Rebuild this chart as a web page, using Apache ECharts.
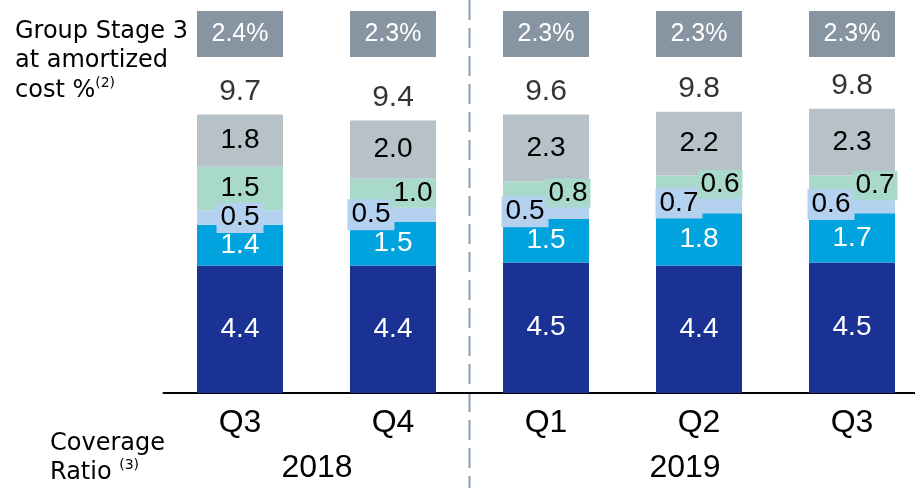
<!DOCTYPE html>
<html><head><meta charset="utf-8">
<script src="https://cdn.jsdelivr.net/npm/echarts@6/dist/echarts.min.js"></script>
<style>html,body{margin:0;padding:0;background:#fff}#c{width:915px;height:488px}</style>
</head><body><div id="c"></div>
<script>
// ---- data ----
const quarters = ['Q3', 'Q4', 'Q1', 'Q2', 'Q3'];
const years = ['2018', '2019'];
const stage3Pct = ['2.4%', '2.3%', '2.3%', '2.3%', '2.3%'];
const totals = ['9.7', '9.4', '9.6', '9.8', '9.8'];
const seg1 = [4.4, 4.4, 4.5, 4.4, 4.5];
const seg2 = [1.4, 1.5, 1.5, 1.8, 1.7];
const seg3 = [0.5, 0.5, 0.5, 0.7, 0.6];
const seg4 = [1.5, 1.0, 0.8, 0.6, 0.7];
const seg5 = [1.8, 2.0, 2.3, 2.2, 2.3];

// ---- layout / style constants ----
const off3 = [0, -22, -21, -20, -21];
const off4 = [0, 20, 22, 21, 23];
const FONT = '"Liberation Sans", Arial, sans-serif';
const DV = '"DejaVu Sans", sans-serif';
const C = { navy: '#1B3295', cyan: '#00A3DE', lblue: '#B4D1EF', mint: '#A8D9CB', grey: '#B7C1C8', box: '#8794A2' };
const BW = 86;

const sums = quarters.map((_, i) => seg1[i] + seg2[i] + seg3[i] + seg4[i] + seg5[i]);

function segLabel(color) {
  return { show: true, position: 'inside', color: color, fontSize: 28, fontFamily: FONT,
           formatter: p => p.value.toFixed(1) };
}

const chart = echarts.init(document.getElementById('c'), null, { renderer: 'canvas' });
chart.setOption({
  animation: false,
  backgroundColor: '#fff',
  grid: [
    { left: 163.5, width: 765, top: 45, height: 348, outerBoundsMode: 'none', containLabel: false },
    { left: 163.5, width: 765, top: 11, height: 46, outerBoundsMode: 'none', containLabel: false }
  ],
  xAxis: [
    { type: 'category', gridIndex: 0, data: quarters,
      axisLine: { lineStyle: { color: '#000', width: 2 } }, axisTick: { show: false },
      axisLabel: { color: '#000', fontSize: 32, fontFamily: FONT, margin: 14, lineHeight: 32 } },
    { type: 'category', gridIndex: 1, data: quarters, show: false }
  ],
  yAxis: [
    { type: 'value', gridIndex: 0, min: 0, max: 12, show: false },
    { type: 'value', gridIndex: 1, min: 0, max: 1, show: false }
  ],
  series: [
    { type: 'bar', stack: 'a', barWidth: BW, data: seg1, itemStyle: { color: C.navy }, label: segLabel('#fff') },
    { type: 'bar', stack: 'a', barWidth: BW, data: seg2, itemStyle: { color: C.cyan }, label: segLabel('#fff') },
    { type: 'bar', stack: 'a', barWidth: BW, itemStyle: { color: C.lblue },
      data: seg3.map((v, i) => ({ value: v, label: { offset: [off3[i], 0] } })),
      label: Object.assign(segLabel('#000'), { backgroundColor: C.lblue, padding: [2, 4], lineHeight: 27 }) },
    { type: 'bar', stack: 'a', barWidth: BW, itemStyle: { color: C.mint },
      data: seg4.map((v, i) => ({ value: v, label: { offset: [off4[i], 0] } })),
      label: Object.assign(segLabel('#000'), { backgroundColor: C.mint, padding: [1, 3], lineHeight: 27 }) },
    { type: 'bar', stack: 'a', barWidth: BW, data: seg5, itemStyle: { color: C.grey }, label: segLabel('#000') },
    { type: 'scatter', symbolSize: 0, clip: false, silent: true,
      data: sums.map((s, i) => [i, s]),
      label: { show: true, position: 'top', distance: 8, color: '#000', fontSize: 30, fontFamily: FONT,
               formatter: p => totals[p.dataIndex] } },
    { type: 'bar', xAxisIndex: 1, yAxisIndex: 1, barWidth: BW, data: stage3Pct.map(() => 1),
      itemStyle: { color: C.box },
      label: { show: true, position: 'inside', color: '#fff', fontSize: 25, fontFamily: FONT,
               formatter: p => stage3Pct[p.dataIndex] } }
  ],
  graphic: [
    { type: 'line', shape: { x1: 469.5, y1: 0, x2: 469.5, y2: 488 },
      style: { stroke: '#8CA0B8', lineWidth: 2, lineDash: [20, 8] }, z: 0 },
    { type: 'text', left: 15, top: 17,
      style: { text: 'Group Stage 3\nat amortized\ncost %{sup|(2)}', fill: '#000', fontSize: 24,
               fontFamily: DV, lineHeight: 29.5,
               rich: { sup: { fontSize: 14, verticalAlign: 'top', fontFamily: DV, lineHeight: 29.5 } } } },
    { type: 'text', left: 50, top: 430,
      style: { text: 'Coverage\nRatio {sup|(3)}', fill: '#000', fontSize: 24,
               fontFamily: DV, lineHeight: 28.5,
               rich: { sup: { fontSize: 14, verticalAlign: 'top', fontFamily: DV, lineHeight: 28.5 } } } },
    { type: 'text', x: 317, y: 468,
      style: { text: years[0], fill: '#000', fontSize: 32, fontFamily: FONT, align: 'center', verticalAlign: 'middle' } },
    { type: 'text', x: 685, y: 468,
      style: { text: years[1], fill: '#000', fontSize: 32, fontFamily: FONT, align: 'center', verticalAlign: 'middle' } }
  ]
});
</script></body></html>
